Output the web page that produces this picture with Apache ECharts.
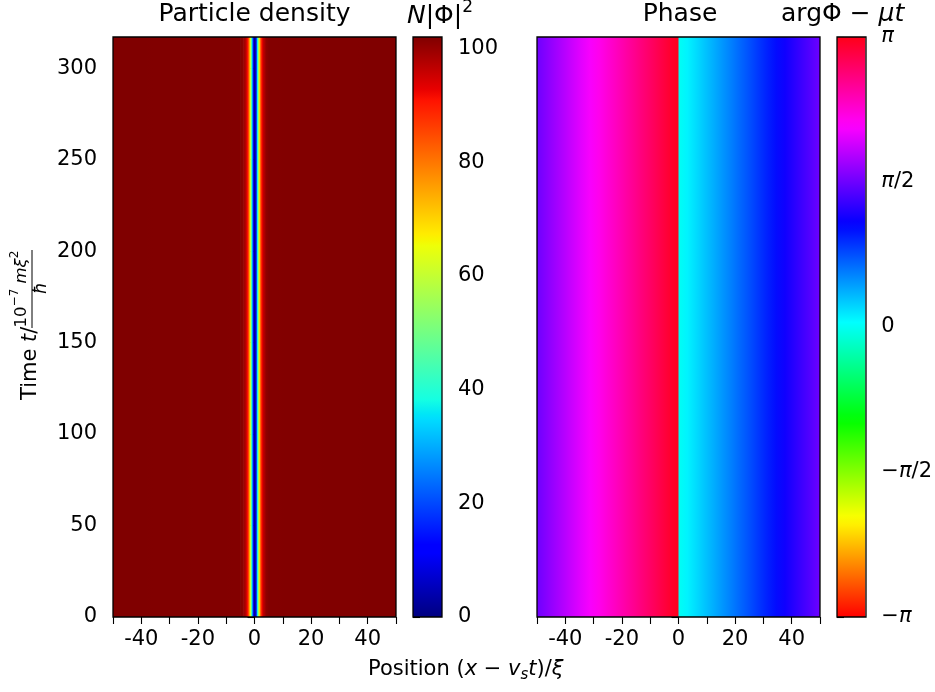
<!DOCTYPE html>
<html>
<head>
<meta charset="utf-8">
<title>Dark soliton</title>
<script src="https://cdn.jsdelivr.net/npm/echarts@6/dist/echarts.min.js"></script>
<style>
  html, body { margin: 0; padding: 0; background: #fff; }
  #main { width: 935px; height: 692px; }
</style>
</head>
<body>
<div id="main"></div>
<script>
// density profile across the soliton (x in units of xi), constant in time
var densityX = [-50, -5, -4, -3, -2.5, -2, -1.5, -1, -0.5, 0, 0.5, 1, 1.5, 2, 2.5, 3, 4, 5, 50];
var densityN = [102, 101.7, 100.6, 96, 91, 81, 63, 38, 12, 0, 12, 38, 63, 81, 91, 96, 100.6, 101.7, 102];
// phase profile in units of pi, jump of pi at x = 0
var phaseX = [-50, 0, 0, 50];
var phasePi = [0.5, 1.0, 0.0, 0.5];

var timeRange = [0, 317];
var densityRange = [0, 102];
var phaseRange = [-1, 1];

var xTicks = [-50, -40, -30, -20, -10, 0, 10, 20, 30, 40, 50];
var xLabels = [-40, -20, 0, 20, 40];
var yTicks = [0, 50, 100, 150, 200, 250, 300];
var densityTicks = [0, 20, 40, 60, 80, 100];
var phaseTicks = [-1, -0.5, 0, 0.5, 1];
var phaseTickLabels = ['−{i|π}', '−{i|π}/2', '0', '{i|π}/2', '{i|π}'];

// matplotlib colormaps as [position, [r, g, b]]
var jet = [
    [0, [0, 0, 0.5]], [0.11, [0, 0, 1]], [0.125, [0, 0, 1]], [0.34, [0, 0.86, 1]],
    [0.35, [0, 0.9, 0.968]], [0.375, [0.081, 1, 0.887]], [0.64, [0.935, 1, 0.032]],
    [0.65, [0.968, 0.963, 0]], [0.66, [1, 0.926, 0]], [0.89, [1, 0.074, 0]],
    [0.91, [0.909, 0, 0]], [1, [0.5, 0, 0]]
];
var hsv = [
    [0, [1, 0, 0]], [0.15873, [1, 0.9375, 0]], [0.174603, [0.96875, 1, 0]],
    [0.333333, [0.03125, 1, 0]], [0.349206, [0, 1, 0.0625]], [0.507937, [0, 1, 1]],
    [0.666667, [0, 0.0625, 1]], [0.68254, [0.03125, 0, 1]], [0.84127, [0.96875, 0, 1]],
    [0.857143, [1, 0, 0.9375]], [1, [1, 0, 0.09375]]
];

function cmap(stops, p) {
    p = Math.max(0, Math.min(1, p));
    for (var i = 1; i < stops.length; i++) {
        if (p <= stops[i][0]) {
            var a = stops[i - 1], b = stops[i];
            var f = (p - a[0]) / ((b[0] - a[0]) || 1);
            var c = [0, 1, 2].map(function (k) {
                return Math.round(255 * (a[1][k] + (b[1][k] - a[1][k]) * f));
            });
            return 'rgb(' + c.join(',') + ')';
        }
    }
    return 'rgb(0,0,0)';
}

function segments(xs, vs) {
    var out = [];
    for (var i = 0; i < xs.length - 1; i++) {
        if (xs[i + 1] > xs[i]) out.push([xs[i], xs[i + 1], vs[i], vs[i + 1]]);
    }
    return out;
}

function bandItem(stops, range) {
    return function (params, api) {
        var v0 = api.value(2), v1 = api.value(3);
        var a = api.coord([api.value(0), timeRange[1]]);
        var b = api.coord([api.value(1), timeRange[0]]);
        var cs = [];
        for (var k = 0; k <= 16; k++) {
            var f = k / 16;
            cs.push({offset: f, color: cmap(stops, (v0 + (v1 - v0) * f - range[0]) / (range[1] - range[0]))});
        }
        return {
            type: 'rect',
            shape: {x: a[0], y: a[1], width: b[0] - a[0] + 0.6, height: b[1] - a[1]},
            style: {fill: new echarts.graphic.LinearGradient(0, 0, 1, 0, cs)}
        };
    };
}

function barItem(stops) {
    return function (params, api) {
        var a = api.coord([0, api.value(1)]);
        var b = api.coord([1, api.value(0)]);
        var cs = stops.map(function (s) { return {offset: s[0], color: cmap(stops, s[0])}; });
        return {
            type: 'rect',
            shape: {x: a[0], y: a[1], width: b[0] - a[0], height: b[1] - a[1]},
            style: {fill: new echarts.graphic.LinearGradient(0, 1, 0, 0, cs)}
        };
    };
}

var FONT = 'DejaVu Sans';
var TOP = 37, H = 580;
var boxes = [
    {left: 113, width: 283},
    {left: 413, width: 29},
    {left: 537, width: 283},
    {left: 837, width: 29}
];

function tickAxis(opt) {
    var ax = {
        type: 'value',
        gridIndex: opt.grid,
        min: opt.min,
        max: opt.max,
        position: opt.position,
        axisLine: {show: false},
        splitLine: {show: false},
        axisTick: {show: true, customValues: opt.ticks, length: 7, lineStyle: {color: '#000', width: 1.1}},
        axisLabel: {
            show: opt.labels !== null,
            customValues: opt.labels || [],
            formatter: opt.formatter || function (v) { return String(v); },
            color: '#000', fontSize: 21, fontFamily: FONT, margin: opt.margin,
            rich: {i: {fontStyle: 'italic', fontSize: 21, fontFamily: FONT, color: '#000'}}
        }
    };
    return ax;
}

var chart = echarts.init(document.getElementById('main'));

var graphics = boxes.map(function (b) {
    return {
        type: 'rect', z: 100, silent: true,
        shape: {x: b.left, y: TOP, width: b.width, height: H},
        style: {fill: null, stroke: '#000', lineWidth: 1.3}
    };
});

graphics.push(
    {type: 'text', z: 100, style: {x: 254.5, y: 14, text: 'Particle density', fontSize: 25, fontFamily: FONT, fill: '#000', align: 'center', verticalAlign: 'middle'}},
    {type: 'text', z: 100, style: {x: 680, y: 14, text: 'Phase', fontSize: 25, fontFamily: FONT, fill: '#000', align: 'center', verticalAlign: 'middle'}},
    {type: 'text', z: 100, style: {
        x: 407, y: 29, text: '{i|N}{n||Φ|}{s|2}', align: 'left', verticalAlign: 'bottom', fill: '#000',
        rich: {
            i: {fontSize: 25, fontFamily: FONT, fontStyle: 'italic', lineHeight: 30, verticalAlign: 'bottom'},
            n: {fontSize: 25, fontFamily: FONT, lineHeight: 30, verticalAlign: 'bottom'},
            s: {fontSize: 17, fontFamily: FONT, lineHeight: 17, verticalAlign: 'top'}
        }
    }},
    {type: 'text', z: 100, style: {
        x: 781, y: 29, text: '{n|argΦ − }{i|μt}', align: 'left', verticalAlign: 'bottom', fill: '#000',
        rich: {
            i: {fontSize: 25, fontFamily: FONT, fontStyle: 'italic', lineHeight: 30},
            n: {fontSize: 25, fontFamily: FONT, lineHeight: 30}
        }
    }},
    {type: 'text', z: 100, style: {
        x: 368, y: 670, text: '{n|Position (}{i|x}{n| − }{i|v}{s|s}{i|t}{n|)/}{i|ξ}', align: 'left', verticalAlign: 'middle', fill: '#000',
        rich: {
            n: {fontSize: 21, fontFamily: FONT, lineHeight: 26, verticalAlign: 'middle'},
            i: {fontSize: 21, fontFamily: FONT, fontStyle: 'italic', lineHeight: 26, verticalAlign: 'middle'},
            s: {fontSize: 15, fontFamily: FONT, fontStyle: 'italic', lineHeight: 15, verticalAlign: 'bottom'}
        }
    }},
    {
        type: 'group', x: 38, y: 400, rotation: Math.PI / 2, z: 100,
        children: [
            {type: 'text', style: {
                x: 0, y: -7, text: '{n|Time }{i|t}{n|/}', align: 'left', verticalAlign: 'middle', fill: '#000',
                rich: {
                    n: {fontSize: 21, fontFamily: FONT},
                    i: {fontSize: 21, fontFamily: FONT, fontStyle: 'italic'}
                }
            }},
            {type: 'line', shape: {x1: 72, y1: -6, x2: 150, y2: -6}, style: {stroke: '#000', lineWidth: 1}},
            {type: 'text', style: {
                x: 111, y: -8, text: '{n|10}{s|−7}{n| }{i|mξ}{s|2}', align: 'center', verticalAlign: 'bottom', fill: '#000',
                rich: {
                    n: {fontSize: 16.5, fontFamily: FONT, lineHeight: 21, verticalAlign: 'bottom'},
                    i: {fontSize: 16.5, fontFamily: FONT, fontStyle: 'italic', lineHeight: 21, verticalAlign: 'bottom'},
                    s: {fontSize: 12, fontFamily: FONT, lineHeight: 12, verticalAlign: 'top'}
                }
            }},
            {type: 'text', style: {
                x: 112, y: 4, text: 'ħ', align: 'center', verticalAlign: 'middle', fill: '#000',
                fontSize: 17, fontFamily: FONT, fontStyle: 'italic'
            }}
        ]
    }
);

var option = {
    animation: false,
    backgroundColor: '#fff',
    grid: boxes.map(function (b) {
        return {left: b.left, top: TOP, width: b.width, height: H, show: false};
    }),
    xAxis: [
        tickAxis({grid: 0, min: -50, max: 50, ticks: xTicks, labels: xLabels, margin: 12}),
        {type: 'value', gridIndex: 1, min: 0, max: 1, show: false},
        tickAxis({grid: 2, min: -50, max: 50, ticks: xTicks, labels: xLabels, margin: 12}),
        {type: 'value', gridIndex: 3, min: 0, max: 1, show: false}
    ],
    yAxis: [
        tickAxis({grid: 0, min: timeRange[0], max: timeRange[1], ticks: yTicks, labels: yTicks, margin: 16}),
        tickAxis({grid: 1, min: densityRange[0], max: densityRange[1], position: 'right', ticks: densityTicks, labels: densityTicks, margin: 16}),
        tickAxis({grid: 2, min: timeRange[0], max: timeRange[1], ticks: yTicks, labels: null, margin: 16}),
        tickAxis({grid: 3, min: phaseRange[0], max: phaseRange[1], position: 'right', ticks: phaseTicks, labels: phaseTicks, margin: 16,
            formatter: function (v) { return phaseTickLabels[phaseTicks.indexOf(v)]; }})
    ],
    series: [
        {type: 'custom', xAxisIndex: 0, yAxisIndex: 0, silent: true, clip: true,
            data: segments(densityX, densityN), renderItem: bandItem(jet, densityRange)},
        {type: 'custom', xAxisIndex: 1, yAxisIndex: 1, silent: true,
            data: [[densityRange[0], densityRange[1]]], renderItem: barItem(jet)},
        {type: 'custom', xAxisIndex: 2, yAxisIndex: 2, silent: true, clip: true,
            data: segments(phaseX, phasePi), renderItem: bandItem(hsv, phaseRange)},
        {type: 'custom', xAxisIndex: 3, yAxisIndex: 3, silent: true,
            data: [[phaseRange[0], phaseRange[1]]], renderItem: barItem(hsv)}
    ],
    graphic: graphics
};

chart.setOption(option);
</script>
</body>
</html>
